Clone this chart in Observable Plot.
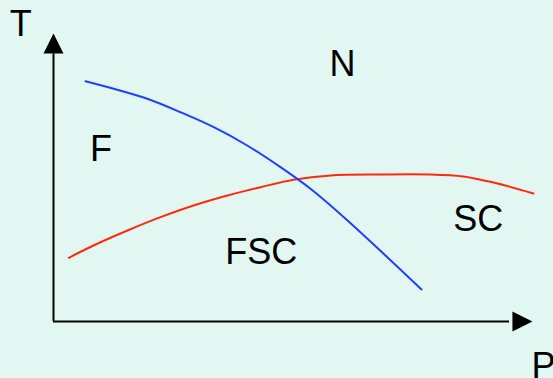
<!DOCTYPE html>
<html>
<head>
<meta charset="utf-8">
<script src="https://cdn.jsdelivr.net/npm/d3@7"></script>
<script src="https://cdn.jsdelivr.net/npm/@observablehq/plot@0.6"></script>
<style>
  html, body { margin: 0; padding: 0; background: #e3f7f2; overflow: hidden; }
</style>
</head>
<body>
<div id="chart"></div>
<script>
// Pressure (P) and temperature (T) in arbitrary units
const blueP = [6.67, 12.56, 19.52, 26.46, 33.40, 40.35, 47.29, 53.54, 61.25, 76.67];
const blueT = [83.44, 80.80, 77.33, 72.67, 67.47, 61.11, 53.58, 46.08, 35.07, 11.11];

const redP = [3.19, 8.33, 15.42, 22.29, 29.17, 36.25, 43.13, 50.0, 57.71, 68.13, 78.54, 85.42, 88.96, 92.5, 100];
const redT = [22.12, 26.39, 31.60, 36.22, 40.28, 43.75, 46.63, 49.20, 50.69, 51.04, 51.04, 50.35, 49.2, 47.92, 44.44];

const regionLabels = ["F", "N", "FSC", "SC"];
const regionP = [9.9, 60.2, 43.3, 88.5];
const regionT = [59.9, 89.4, 24.1, 35.6];

const axisLabels = ["T", "P"];
const axisLabelP = [-6.8, 102.1];
const axisLabelT = [103, -15.5];

const blue = blueP.map((p, i) => ({P: p, T: blueT[i]}));
const red = redP.map((p, i) => ({P: p, T: redT[i]}));
const regions = regionLabels.map((s, i) => ({s, P: regionP[i], T: regionT[i]}));
const axLabs = axisLabels.map((s, i) => ({s, P: axisLabelP[i], T: axisLabelT[i]}));

// filled arrowhead: tip up, base width = height = 2r
const arrowHead = {
  draw(ctx, size) {
    const r = Math.sqrt(size / Math.PI);
    ctx.moveTo(0, -r);
    ctx.lineTo(r, r);
    ctx.lineTo(-r, r);
    ctx.closePath();
  }
};

const chart = Plot.plot({
  width: 553,
  height: 378,
  marginLeft: 53,
  marginRight: 20,
  marginTop: 33,
  marginBottom: 57,
  x: {domain: [0, 100], axis: null},
  y: {domain: [0, 100], axis: null},
  style: {background: "#e3f7f2", fontFamily: "Liberation Sans, Arial, sans-serif", overflow: "visible"},
  marks: [
    Plot.ruleX([0], {y1: 0, y2: 93, stroke: "black", strokeWidth: 2}),
    Plot.ruleY([0], {x1: 0, x2: 95, stroke: "black", strokeWidth: 2}),
    Plot.dot([{P: 0, T: 96.5}], {x: "P", y: "T", r: 10, symbol: arrowHead, fill: "black", stroke: null}),
    Plot.dot([{P: 97.7, T: 0}], {x: "P", y: "T", r: 10, symbol: arrowHead, fill: "black", stroke: null, rotate: 90}),
    Plot.line(red, {x: "P", y: "T", stroke: "#ff2a0a", strokeWidth: 2, curve: "catmull-rom"}),
    Plot.line(blue, {x: "P", y: "T", stroke: "#1f3fff", strokeWidth: 2, curve: "catmull-rom"}),
    Plot.text(regions, {x: "P", y: "T", text: "s", fontSize: 36, fill: "black"}),
    Plot.text(axLabs, {x: "P", y: "T", text: "s", fontSize: 36, fill: "black"})
  ]
});
document.getElementById("chart").appendChild(chart);
</script>
</body>
</html>
